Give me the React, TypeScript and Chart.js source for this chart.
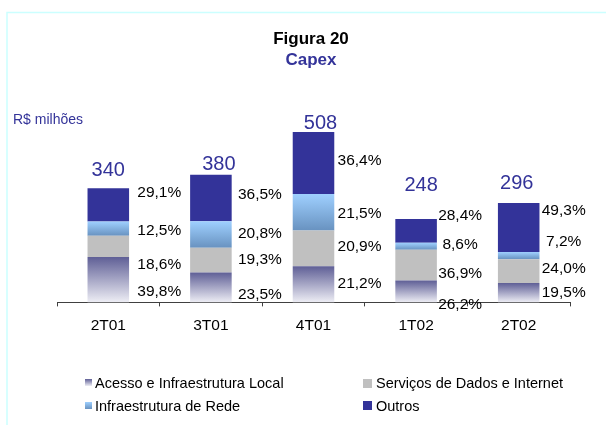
import React, { useEffect, useRef } from 'react';
import { Chart, registerables } from 'chart.js';

Chart.register(...registerables);

// ---------- data ----------
const categories = ['2T01', '3T01', '4T01', '1T02', '2T02'];
const totals = [340, 380, 508, 248, 296];
const pctAcesso = [39.8, 23.5, 21.2, 26.2, 19.5];
const pctServicos = [18.6, 19.3, 20.9, 36.9, 24.0];
const pctInfra = [12.5, 20.8, 21.5, 8.6, 7.2];
const pctOutros = [29.1, 36.5, 36.4, 28.4, 49.3];
const seriesNames = [
  'Acesso e Infraestrutura Local',
  'Serviços de Dados e Internet',
  'Infraestrutura de Rede',
  'Outros',
];
const titleText = 'Figura 20';
const subtitleText = 'Capex';
const unitText = 'R$ milhões';

// ---------- layout (label anchors, in value units of the y scale) ----------
const pctLabelAt = [
  [31, 113, 214, 327],
  [23, 128, 205, 322],
  [55, 166, 265, 423],
  [-8, 84, 171, 257],
  [28, 100, 181, 272],
];
const pctLabelDx = [51, 49, 46, 44, 45];
const totalLabelAt = [376, 394, 516, 331, 339];
const totalLabelDx = [0, 8, 7, 5, -2];

const FONT = 'Arial, "Liberation Sans", Helvetica, sans-serif';
const BLUE = '#333399';

const pctSeries = [pctAcesso, pctServicos, pctInfra, pctOutros];
const segValues = pctSeries.map((p) => p.map((v, i) => (totals[i] * v) / 100));

const fmtPct = (v: number) => v.toFixed(1).replace('.', ',') + '%';

function gradientFill(top: string, bottom: string, dsIndex: number) {
  return (ctx: any) => {
    const chart = ctx.chart;
    const y = chart.scales && chart.scales.y;
    if (!y || ctx.type !== 'data') return bottom;
    const i = ctx.dataIndex;
    let base = 0;
    for (let d = 0; d < dsIndex; d++) base += Number(chart.data.datasets[d].data[i]);
    const yTop = y.getPixelForValue(base + Number(chart.data.datasets[dsIndex].data[i]));
    const yBot = y.getPixelForValue(base);
    if (!isFinite(yTop) || !isFinite(yBot) || yTop === yBot) return bottom;
    const g = chart.ctx.createLinearGradient(0, yTop, 0, yBot);
    g.addColorStop(0, top);
    g.addColorStop(1, bottom);
    return g;
  };
}

const ACESSO_TOP = '#5f5f96';
const ACESSO_BOT = '#eeeef5';
const INFRA_TOP = '#9fd0ff';
const INFRA_BOT = '#6892c0';
const SERV = '#c0c0c0';
const OUTROS = '#333399';

const decorPlugin = {
  id: 'decor',
  beforeDraw(chart: any) {
    const c = chart.ctx;
    c.save();
    c.strokeStyle = '#ccffff';
    c.lineWidth = 1.5;
    c.beginPath();
    c.moveTo(7, 430);
    c.lineTo(7, 12.5);
    c.lineTo(610, 12.5);
    c.stroke();
    c.restore();
  },
  afterDraw(chart: any) {
    const c = chart.ctx;
    const xs = chart.scales.x;
    const ys = chart.scales.y;
    c.save();
    // titles
    c.textAlign = 'center';
    c.textBaseline = 'alphabetic';
    c.fillStyle = '#000';
    c.font = `bold 17px ${FONT}`;
    c.fillText(titleText, 311, 44);
    c.fillStyle = BLUE;
    c.fillText(subtitleText, 311, 64.5);
    // unit
    c.textAlign = 'left';
    c.font = `14px ${FONT}`;
    c.fillText(unitText, 13, 124);

    // totals
    c.textAlign = 'center';
    c.font = `20px ${FONT}`;
    c.fillStyle = BLUE;
    categories.forEach((_, i) => {
      const x = xs.getPixelForValue(i) + totalLabelDx[i];
      const y = ys.getPixelForValue(totalLabelAt[i]);
      c.fillText(String(totals[i]), x, y);
    });

    // percentages
    c.font = `15.5px ${FONT}`;
    c.fillStyle = '#000';
    c.textBaseline = 'middle';
    categories.forEach((_, i) => {
      const x = xs.getPixelForValue(i) + pctLabelDx[i];
      pctSeries.forEach((p, s) => {
        const y = ys.getPixelForValue(pctLabelAt[i][s]);
        c.fillText(fmtPct(p[i]), x, y);
      });
    });

    // legend
    const items = [
      { name: seriesNames[0], x: 85, y: 379, size: 7, tx: 95, ty: 387.5, kind: 'acesso' },
      { name: seriesNames[1], x: 363, y: 379, size: 9, tx: 376, ty: 387.5, kind: 'serv' },
      { name: seriesNames[2], x: 85, y: 402, size: 7, tx: 95, ty: 410.5, kind: 'infra' },
      { name: seriesNames[3], x: 363, y: 401, size: 9, tx: 376, ty: 410.5, kind: 'outros' },
    ];
    c.textAlign = 'left';
    c.textBaseline = 'alphabetic';
    c.font = `14.5px ${FONT}`;
    items.forEach((it) => {
      let fill: any;
      if (it.kind === 'acesso' || it.kind === 'infra') {
        const g = c.createLinearGradient(0, it.y, 0, it.y + it.size);
        g.addColorStop(0, it.kind === 'acesso' ? ACESSO_TOP : INFRA_TOP);
        g.addColorStop(1, it.kind === 'acesso' ? ACESSO_BOT : INFRA_BOT);
        fill = g;
      } else {
        fill = it.kind === 'serv' ? SERV : OUTROS;
      }
      c.fillStyle = fill;
      c.fillRect(it.x, it.y, it.size, it.size);
      c.fillStyle = '#000';
      c.fillText(it.name, it.tx, it.ty);
    });
    c.restore();
  },
};

export default function App() {
  const ref = useRef<HTMLCanvasElement | null>(null);
  useEffect(() => {
    if (!ref.current) return;
    const chart = new Chart(ref.current, {
      type: 'bar',
      data: {
        labels: categories,
        datasets: [
          { label: seriesNames[0], data: segValues[0], backgroundColor: gradientFill(ACESSO_TOP, ACESSO_BOT, 0) as any },
          { label: seriesNames[1], data: segValues[1], backgroundColor: SERV },
          { label: seriesNames[2], data: segValues[2], backgroundColor: gradientFill(INFRA_TOP, INFRA_BOT, 2) as any },
          { label: seriesNames[3], data: segValues[3], backgroundColor: OUTROS },
        ],
      },
      options: {
        animation: false,
        responsive: false,
        layout: { padding: { left: 57, right: 36, top: 101, bottom: 80 } },
        datasets: { bar: { categoryPercentage: 1, barPercentage: 0.405, borderWidth: 0 } },
        plugins: {
          legend: { display: false },
          tooltip: { enabled: false },
          title: { display: false },
        },
        scales: {
          x: {
            stacked: true,
            grid: {
              offset: true,
              drawOnChartArea: false,
              drawTicks: true,
              tickLength: 4,
              color: '#404040',
            },
            border: { display: true, color: '#404040', width: 1 },
            ticks: { color: '#000', font: { family: FONT, size: 15.5 }, padding: 10 },
          },
          y: { stacked: true, display: false, min: 0, max: 600 },
        },
      },
      plugins: [decorPlugin],
    });
    return () => chart.destroy();
  }, []);
  return (
    <div style={{ position: 'absolute', left: 0, top: 0, width: 606, height: 425, background: '#fff' }}>
      <canvas ref={ref} width={606} height={425} style={{ display: 'block' }} />
    </div>
  );
}
